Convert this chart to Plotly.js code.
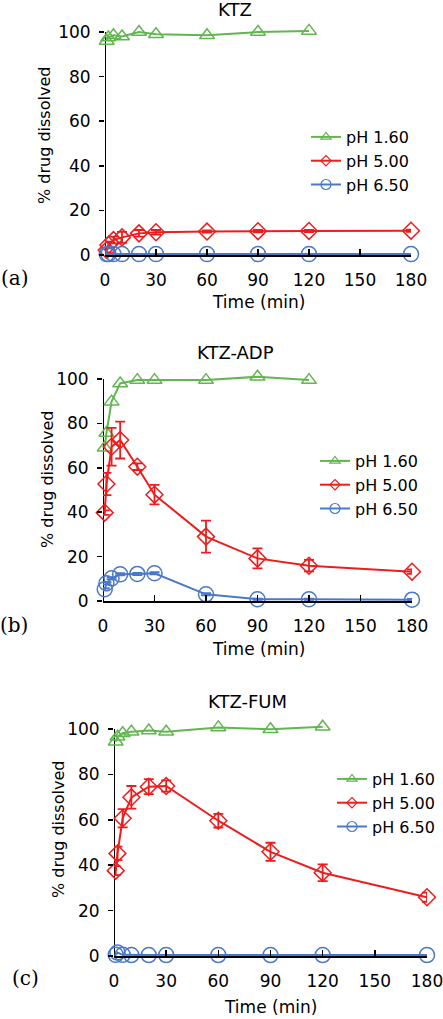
<!DOCTYPE html>
<html>
<head>
<meta charset="utf-8">
<script src="https://cdn.plot.ly/plotly-3.0.1.min.js"></script>
<style>html,body{margin:0;padding:0;background:#fff;}#chart{width:443px;height:1019px;}</style>
</head>
<body>
<div id="chart"></div>
<script>
// ---- data ----
const timeAll = [1, 2, 5, 10, 20, 30, 60, 90, 120, 180];
const time160 = [1, 2, 5, 10, 20, 30, 60, 90, 120];
const xTicks = [0, 30, 60, 90, 120, 150, 180];
const yTicks = [0, 20, 40, 60, 80, 100];
const seriesNames = ["pH 1.60", "pH 5.00", "pH 6.50"];
const panelTitles = ["KTZ", "KTZ-ADP", "KTZ-FUM"];
const panelLabels = ["(a)", "(b)", "(c)"];

// KTZ
const ktzPH160 = [96, 97.5, 98.5, 98, 100, 99, 98.5, 100, 100.5];
const ktzPH500 = [2.2, 4.5, 6.7, 7.9, 9.7, 10.2, 10.5, 10.7, 10.8, 10.9];
const ktzPH500Err = [1, 1.5, 1.5, 2.5, 1.5, 1, 0.5, 0.5, 0.5, 0.5];
const ktzPH650 = [0.4, 0.4, 0.4, 0.4, 0.4, 0.4, 0.4, 0.4, 0.4, 0.4];

// KTZ-ADP
const adpPH160 = [69, 75.7, 89.8, 98, 99.5, 99.5, 99.5, 101, 99.5];
const adpPH500 = [39.8, 52.7, 69.5, 72.5, 60.5, 47.9, 29, 19.2, 15.9, 13.2];
const adpPH500Err = [1, 5, 8.5, 8.3, 1.5, 4.4, 7.2, 4.5, 2.6, 1];
const adpPH650 = [5.3, 8, 10.2, 12, 12.2, 12.5, 3, 0.8, 0.8, 0.6];
const adpPH650Err = [0.5, 0.5, 0.5, 0.5, 0.5, 0.5, 0.5, 0.3, 0.3, 0.3];

// KTZ-FUM
const fumPH160 = [94.4, 96.6, 98.1, 98.8, 99.3, 98.8, 100.7, 99.9, 101];
const fumPH500 = [37.6, 45.2, 60.7, 69.9, 74.6, 74.9, 59.6, 45.9, 36.7, 25.9];
const fumPH500Err = [2, 3, 4, 5, 3.3, 2.5, 3, 4, 3.7, 2];
const fumPH650 = [0.5, 1.5, 0.5, 0.4, 0.4, 0.4, 0.4, 0.4, 0.4, 0.4];

// ---- styling ----
const W = 443, H = 1019;
const FONT = "DejaVu Sans, Arial, sans-serif";
const green = "#62b64f", red = "#ee1c1c", blue = "#4a78c8";
const colors = [green, red, blue];
const symbols = ["triangle-up-open", "diamond-open", "circle-open"];
const sizes = [13, 13, 15];
const legSizes = [9, 8, 10];
const Y_MAX = 104; // headroom so points slightly above 100 are drawn

// panels in pixel coordinates (yTop = position of value 100)
const panels = [
  {x0: 105, x1: 411, yTop: 32, yBot: 255},
  {x0: 103, x1: 412, yTop: 379, yBot: 601},
  {x0: 114, x1: 427, yTop: 729, yBot: 956}
];
const px = v => v / W;
const py = v => 1 - v / H;

const panelData = [
  {g: ktzPH160, r: ktzPH500, rErr: ktzPH500Err, b: ktzPH650, bErr: null},
  {g: adpPH160, r: adpPH500, rErr: adpPH500Err, b: adpPH650, bErr: adpPH650Err},
  {g: fumPH160, r: fumPH500, rErr: fumPH500Err, b: fumPH650, bErr: null}
];

const traces = [];
const layout = {
  width: W, height: H, autosize: false,
  margin: {l: 0, r: 0, t: 0, b: 0},
  paper_bgcolor: "#fff", plot_bgcolor: "rgba(0,0,0,0)",
  font: {family: FONT, size: 16, color: "#000"},
  showlegend: true,
  annotations: [], shapes: []
};

const legendPos = [
  {x: 306, y: 120},
  {x: 315, y: 444},
  {x: 332, y: 762}
];
const titlePos = [{x: 235, y: 10}, {x: 236, y: 353}, {x: 247, y: 701}];
const yTitlePos = [{x: 45, y: 136}, {x: 47, y: 480}, {x: 58, y: 830}];
const xTitlePos = [{x: 258, y: 302}, {x: 258, y: 649}, {x: 270, y: 1007}];
const labelPos = [{x: 15, y: 278}, {x: 14, y: 625}, {x: 25, y: 978}];

panels.forEach((p, i) => {
  const n = i === 0 ? "" : String(i + 1);
  const xa = "x" + n, ya = "y" + n;
  const leg = "legend" + n;
  const d = panelData[i];
  const ys = [d.g, d.r, d.b];
  const xs = [time160, timeAll, timeAll];
  const errs = [null, d.rErr, d.bErr];
  for (let k = 0; k < 3; k++) {
    const t = {
      type: "scatter", mode: "lines+markers",
      x: xs[k], y: ys[k], xaxis: xa, yaxis: ya,
      line: {color: colors[k], width: 2},
      marker: {symbol: symbols[k], size: sizes[k], color: colors[k], line: {width: 1.5, color: colors[k]}},
      cliponaxis: false, showlegend: false, hoverinfo: "skip"
    };
    if (errs[k]) {
      t.error_y = {type: "data", array: errs[k], visible: true, color: colors[k], thickness: 1.8, width: 5};
    }
    traces.push(t);
  }
  // legend-only entries (smaller symbols as in the reference legend)
  for (let k = 0; k < 3; k++) {
    traces.push({
      type: "scatter", mode: "lines+markers",
      x: [null], y: [null], xaxis: xa, yaxis: ya,
      name: seriesNames[k], legend: leg,
      line: {color: colors[k], width: 2},
      marker: {symbol: symbols[k], size: legSizes[k], color: colors[k], line: {width: 1.2, color: colors[k]}},
      showlegend: true, hoverinfo: "skip"
    });
  }
  const topPx = p.yTop - (Y_MAX - 100) * (p.yBot - p.yTop) / 100;
  layout["xaxis" + n] = {
    domain: [px(p.x0), px(p.x1)], anchor: ya, range: [0, 180],
    tickvals: xTicks, ticktext: xTicks.map(String),
    showline: true, linecolor: "#000", linewidth: 2,
    ticks: "inside", ticklen: 6, tickwidth: 1.5, tickcolor: "#000",
    showgrid: false, zeroline: false, ticklabelstandoff: 9,
    ticklabeloverflow: "allow",
    tickfont: {family: FONT, size: 17, color: "#000"}, fixedrange: true
  };
  layout["yaxis" + n] = {
    domain: [py(p.yBot), py(topPx)], anchor: xa, range: [0, Y_MAX],
    tickvals: yTicks, ticktext: yTicks.map(String),
    showline: false,
    ticks: "outside", ticklen: 5, tickwidth: 1.5, tickcolor: "#000",
    showgrid: false, zeroline: false, ticklabelstandoff: 5,
    ticklabeloverflow: "allow",
    tickfont: {family: FONT, size: 17, color: "#000"}, fixedrange: true
  };
  // y axis line from 0 to 100
  layout.shapes.push({type: "line", xref: xa, yref: ya, x0: 0, x1: 0, y0: 0, y1: 100,
    line: {color: "#000", width: 2}, layer: "below"});
  layout[leg] = {
    x: px(legendPos[i].x), y: py(legendPos[i].y), xanchor: "left", yanchor: "top",
    bgcolor: "rgba(0,0,0,0)", borderwidth: 0,
    font: {family: FONT, size: 16, color: "#000"}, tracegroupgap: 0
  };
  layout.annotations.push(
    {text: panelTitles[i], x: px(titlePos[i].x), y: py(titlePos[i].y), xref: "paper", yref: "paper",
     xanchor: "center", yanchor: "middle", showarrow: false, font: {family: FONT, size: 18, color: "#000"}},
    {text: "% drug dissolved", x: px(yTitlePos[i].x), y: py(yTitlePos[i].y), xref: "paper", yref: "paper",
     xanchor: "center", yanchor: "middle", textangle: -90, showarrow: false, font: {family: FONT, size: 16, color: "#000"}},
    {text: "Time (min)", x: px(xTitlePos[i].x), y: py(xTitlePos[i].y), xref: "paper", yref: "paper",
     xanchor: "center", yanchor: "middle", showarrow: false, font: {family: FONT, size: 17, color: "#000"}},
    {text: panelLabels[i], x: px(labelPos[i].x), y: py(labelPos[i].y), xref: "paper", yref: "paper",
     xanchor: "center", yanchor: "middle", showarrow: false, font: {family: "DejaVu Serif, Liberation Serif, serif", size: 20, color: "#000"}}
  );
});

Plotly.newPlot("chart", traces, layout, {displayModeBar: false, staticPlot: true});
</script>
</body>
</html>
